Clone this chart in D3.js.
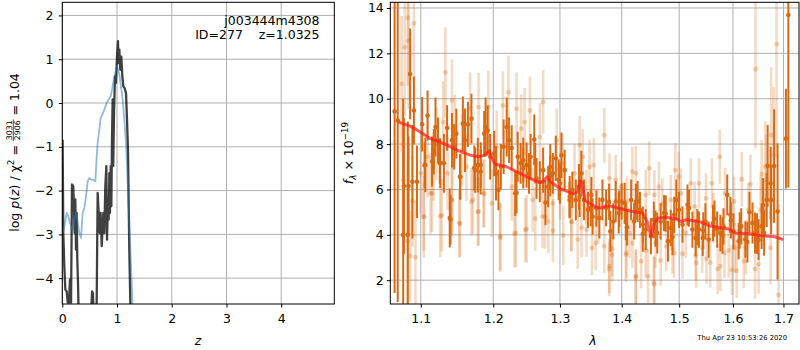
<!DOCTYPE html>
<html><head><meta charset="utf-8">
<script src="https://cdn.jsdelivr.net/npm/d3@7"></script>
<style>
body{margin:0;background:#fff}
svg{display:block}
text{font-family:"DejaVu Sans",sans-serif;fill:#000}
</style>
</head><body>
<svg id="c" width="800" height="350"></svg>
<script>
// ---------------- DATA ----------------
// Left panel: log p(z)
const pzDarkZ   = [0.006,0.018,0.037,0.055,0.08,0.1,0.122,0.14,0.16,0.177,0.2,0.213,0.226,0.238,0.25,0.262,0.274,0.287,0.3,0.52,0.545,0.56,0.575,0.628,0.646,0.665,0.683,0.7,0.72,0.738,0.75,0.768,0.786,0.805,0.817,0.835,0.847,0.86,0.87,0.884,0.896,0.908,0.92,0.93,0.945,0.963,0.98,1.0,1.017,1.03,1.042,1.06,1.078,1.097,1.115,1.139,1.164,1.18,1.2,1.212,1.224,1.243,1.26];
const pzDarkVal = [-0.84,-2.97,-3.73,-4.26,-4.3,-4.56,-4.56,-4.03,-4.56,-1.86,-1.9,-2.36,-2.97,-2.2,-3.35,-2.51,-3.57,-4.11,-4.9,-4.9,-4.3,-4.35,-4.9,-4.56,-2.05,-2.51,-2.97,-2.51,-3.27,-2.81,-2.51,-2.97,-1.9,-1.44,-3.12,-2.2,-2.66,-1.6,-2.51,-1.44,-2.36,-0.84,0.08,-1.44,-0.23,0.61,0.46,1.06,1.41,0.91,1.22,0.76,1.06,0.61,0.38,0.34,0.23,-0.3,-1.06,-2.2,-3.35,-4.56,-5.5];
const pzBlueZ   = [0.006,0.037,0.08,0.11,0.14,0.183,0.213,0.244,0.274,0.311,0.342,0.372,0.403,0.433,0.464,0.494,0.525,0.567,0.604,0.628,0.646,0.677,0.7,0.73,0.768,0.81,0.847,0.884,0.914,0.945,0.975,1.0,1.023,1.048,1.072,1.103,1.133,1.164,1.188,1.212,1.236,1.26,1.28,1.297];
const pzBlueVal = [-2.97,-2.81,-2.51,-2.59,-2.74,-2.89,-2.74,-2.51,-2.66,-2.97,-3.08,-2.51,-2.4,-2.13,-1.79,-1.71,-1.75,-1.75,-1.79,-1.22,-0.91,-0.61,-0.34,-0.27,-0.15,0.0,0.08,0.15,0.34,0.57,0.72,0.84,0.76,0.61,0.38,0.08,-0.38,-0.91,-1.6,-2.36,-3.12,-3.88,-4.49,-5.1];
const zTicks = [0,1,2,3,4];
const pzTicks = [-4,-3,-2,-1,0,1,2];
const objName = "j003444m4308";
const objInfo = "ID=277    z=1.0325";

// Right panel: spectrum (flux in 1e-19)
const darkWave = [1.066,1.070,1.077,1.078,1.083,1.086,1.089,1.091,1.1018,1.105,1.109,1.1174,1.1196,1.123,1.1254,1.131,1.1353,1.1389,1.142,1.145,1.148,1.1535,1.157,1.16,1.164,1.169,1.1743,1.178,1.182,1.187,1.189,1.192,1.1955,1.2013,1.204,1.2075,1.211,1.215,1.2196,1.223,1.2268,1.232,1.2357,1.24,1.244,1.249,1.2526,1.255,1.2605,1.264,1.269,1.274,1.2775,1.2817,1.285,1.289,1.2935,1.298,1.3023,1.3074,1.3153,1.3195,1.325,1.33,1.3338,1.338,1.3445,1.349,1.352,1.363,1.368,1.374,1.381,1.386,1.39,1.395,1.4,1.405,1.409,1.416,1.421,1.427,1.431,1.436,1.441,1.45,1.455,1.461,1.467,1.473,1.48,1.485,1.491,1.495,1.4997,1.506,1.515,1.5177,1.524,1.53,1.536,1.543,1.548,1.554,1.562,1.57,1.576,1.582,1.589,1.595,1.601,1.611,1.616,1.624,1.632,1.638,1.643,1.65,1.656,1.661,1.666,1.675,1.681,1.688,1.705,1.71,
  1.084,1.095,1.106,1.115,1.126,1.14,1.153,1.173,1.182,1.234,1.244,1.262,1.285,1.3,1.315,1.331,1.35,1.358,1.379,1.396,1.407,1.424,1.436,1.458,1.476,1.488,1.517,1.533,1.544,1.565,1.58,1.596,1.613,1.628,1.647,1.659,1.668,1.674];
const darkFlux = [9.44,9.04,4.0,6.15,4.0,11.09,6.34,9.48,8.87,7.07,9.26,7.66,8.75,8.17,7.15,7.15,8.71,4.74,8.17,7.88,8.46,6.56,8.9,8.17,8.87,9.12,6.85,7.07,6.78,8.46,8.75,8.6,7.44,7.58,6.71,5.98,7.0,7.88,8.75,8.17,7.83,5.83,7.44,7.15,7.29,7.07,6.71,7.44,8.2,6.49,6.34,6.85,5.42,6.12,7.0,6.71,7.37,6.42,7.51,6.85,5.69,5.98,5.54,6.12,6.71,5.54,5.1,5.18,4.81,4.74,5.54,5.18,4.15,4.59,5.47,4.96,5.47,5.39,4.33,5.54,4.59,5.47,5.1,4.45,4.23,3.94,4.66,4.08,4.59,4.96,3.72,4.3,4.88,5.54,5.1,4.45,5.32,5.18,4.23,3.86,4.23,3.86,4.59,3.79,4.52,4.23,4.08,4.37,5.76,4.88,4.15,3.72,4.37,3.79,4.99,4.52,4.08,3.79,4.37,4.08,5.54,5.54,7.03,5.03,8.24,13.69,
  6.15,6.34,7.08,7.23,7.16,4.67,6.56,6.94,7.08,5.85,6.94,7.16,6.59,6.27,5.53,5.68,5.75,5.16,5.45,5.16,4.56,5.45,4.05,4.27,4.93,3.9,5.16,4.34,4.19,4.71,3.97,4.64,4.19,3.68,4.05,5.31,7.04,6.27];
const darkErr  = [8,8,6,3,5,2,2.5,1.5,1.2,1.0,1.1,1.0,1.3,1.0,0.9,1.3,1.0,1.3,1.2,1.0,1.1,1.0,1.2,1.4,1.0,1.1,1.0,1.2,1.0,1.0,1.3,1.1,1.0,1.0,1.2,0.9,1.0,1.2,1.3,1.0,1.0,1.0,1.1,0.9,1.0,1.0,0.9,1.0,1.1,0.9,0.9,1.0,1.0,0.9,1.0,0.9,1.0,0.9,1.0,0.9,0.9,0.8,0.9,1.0,1.0,0.9,0.8,0.8,0.8,0.9,0.9,0.8,0.9,0.8,0.9,0.9,0.8,0.9,0.8,0.9,0.8,0.9,0.8,0.8,0.9,0.8,0.8,0.9,0.8,0.8,0.9,0.8,0.8,0.9,0.8,0.8,0.9,0.8,0.8,0.8,0.8,0.8,0.8,0.8,0.8,0.8,0.8,0.8,0.9,0.8,0.8,0.8,0.8,0.8,0.9,0.9,0.9,0.9,1.0,1.0,1.2,1.5,2.5,3,2.2,7.6,
  2.2,1.6,1.2,1.1,1.1,1.1,1.0,1.0,1.0,0.9,0.9,0.9,0.9,0.9,0.8,0.9,0.8,0.8,0.8,0.8,0.8,0.8,0.8,0.8,0.8,0.8,0.8,0.8,0.8,0.8,0.8,0.8,0.8,0.9,0.9,1.2,1.8,1.6];
const lightWave = [1.075,1.079,1.083,1.084,1.091,1.086,1.077,1.083,1.089,1.1,1.104,1.109,1.113,1.117,1.121,1.126,1.13,1.133,1.136,1.142,1.142,1.146,1.152,1.156,1.162,1.167,1.171,1.179,1.179,1.186,1.193,1.198,1.205,1.21,1.214,1.222,1.227,1.233,1.234,1.241,1.246,1.249,1.254,1.258,1.269,1.274,1.273,1.282,1.289,1.295,1.3,1.304,1.318,1.323,1.328,1.3311,1.336,1.342,1.347,1.351,1.354,1.357,1.371,1.371,1.3795,1.3795,1.384,1.39,1.399,1.408,1.409,1.413,1.418,1.418,1.424,1.424,1.433,1.441,1.445,1.447,1.455,1.456,1.458,1.464,1.47,1.477,1.485,1.491,1.493,1.499,1.503,1.512,1.521,1.528,1.531,1.536,1.542,1.549,1.557,1.56,1.563,1.575,1.576,1.584,1.585,1.598,1.602,1.604,1.617,1.621,1.63,1.634,1.644,1.65,1.656,1.658,1.666,1.674,1.675,1.68,1.686,1.69,
  1.093,1.104,1.115,1.128,1.142,1.153,1.169,1.178,1.187,1.21,1.231,1.247,1.262,1.277,1.289,1.305,1.318,1.334,1.342,1.361,1.379,1.384,1.407,1.424,1.441,1.456,1.467,1.488,1.506,1.53,1.55,1.571,1.592,1.607,1.625,1.643,1.654,1.663];
const lightFlux = [10.65,12.26,13.57,12.55,13.32,3.06,6.42,3.72,5.47,6.71,4.81,7.44,5.83,7.0,8.02,4.81,8.97,11.16,6.71,5.54,9.92,8.68,4.52,7.73,7.0,9.56,5.54,9.63,5.03,5.83,9.63,5.39,7.88,3.94,9.7,10.29,6.12,4.08,9.56,8.68,8.97,4.26,9.48,5.54,8.31,9.85,4.81,4.59,5.39,8.17,5.98,7.15,4.59,6.71,3.79,7.95,7.44,4.23,7.0,3.42,7.07,3.64,8.39,3.5,2.62,6.49,3.13,6.42,6.12,3.2,5.47,4.08,6.78,3.64,6.71,2.18,2.84,5.76,2.18,6.93,1.89,5.76,3.64,6.12,5.39,3.5,5.54,3.2,6.85,6.56,5.83,4.08,6.27,5.25,2.77,6.27,3.42,5.61,2.77,6.27,4.74,7.44,2.62,3.2,5.83,2.45,5.47,3.42,6.45,2.84,5.1,6.23,11.3,2.7,6.68,5.1,6.42,3.42,8.39,7.51,12.4,1.35,
  3.01,4.79,5.82,4.86,5.53,4.49,5.45,5.01,5.82,3.87,4.05,4.22,4.71,4.79,4.19,3.97,4.56,4.31,5.68,4.79,2.49,3.38,3.13,2.12,3.31,1.82,2.86,3.38,3.16,3.08,2.94,2.49,3.31,2.42,3.45,2.49,5.08,7.01];
const lightErr  = [3,3,3,3,2.5,2,3,3,2,1.8,1.5,1.8,1.8,1.5,1.6,1.8,1.8,2,1.6,1.5,1.8,1.5,1.5,1.6,1.5,1.6,1.5,1.5,1.5,1.5,1.6,1.5,1.6,1.5,1.5,1.6,1.5,1.5,1.6,1.5,1.5,1.5,1.5,1.4,1.5,1.4,1.4,1.4,1.4,1.4,1.3,1.3,1.3,1.3,1.3,1.3,1.2,1.2,1.2,1.2,1.2,1.2,1.2,1.2,1.2,1.1,1.2,1.1,1.1,1.1,1.1,1.1,1.1,1.1,1.2,1.2,1.2,1.1,1.2,1.2,1.2,1.1,1.1,1.1,1.1,1.1,1.1,1.1,1.2,1.1,1.1,1.1,1.1,1.1,1.1,1.1,1.1,1.1,1.1,1.1,1.1,1.2,1.1,1.1,1.1,1.1,1.1,1.1,1.2,1.2,1.2,1.3,3.5,1.3,1.5,1.4,2,1.6,3,3,5,4,
  2.5,1.8,1.7,1.6,1.6,1.5,1.5,1.5,1.5,1.5,1.5,1.4,1.4,1.4,1.4,1.3,1.3,1.3,1.2,1.2,1.2,1.2,1.2,1.2,1.2,1.2,1.1,1.1,1.1,1.1,1.1,1.1,1.2,1.2,1.2,1.3,1.5,2];
const modelWave = [1.0712,1.0866,1.0996,1.1129,1.131,1.149,1.1673,1.179,1.188,1.1945,1.198,1.2026,1.2196,1.2391,1.254,1.269,1.274,1.280,1.2853,1.2997,1.3205,1.3284,1.3322,1.3354,1.339,1.347,1.3578,1.366,1.374,1.385,1.4016,1.4184,1.4354,1.444,1.45,1.4556,1.463,1.476,1.494,1.503,1.512,1.5359,1.5543,1.5792,1.5918,1.6046,1.6303,1.6564,1.683,1.7];
const modelFlux = [8.97,8.78,8.53,8.24,8.02,7.73,7.51,7.44,7.51,7.7,7.37,7.12,7.0,6.71,6.49,6.3,6.34,6.56,6.34,6.05,5.8,5.91,6.39,6.3,5.54,5.39,5.22,5.18,5.28,5.25,5.13,5.03,4.96,4.55,3.93,4.52,4.74,4.77,4.71,4.59,4.66,4.59,4.4,4.3,4.26,4.08,4.05,3.96,3.91,3.79];
const waveTicks = [1.1,1.2,1.3,1.4,1.5,1.6,1.7];
const fluxTicks = [2,4,6,8,10,12,14];
const stamp = "Thu Apr 23 10:53:26 2020";

// ---------------- DRAW ----------------
const svg = d3.select("#c");
const FS = 12.5;
const orange = "#d96a13";

function frame(x0,x1,y0,y1,id){
  svg.append("clipPath").attr("id",id).append("rect")
    .attr("x",x0).attr("y",y0).attr("width",x1-x0).attr("height",y1-y0);
}
function styleAxis(g){
  g.select(".domain").remove();
  g.selectAll(".tick line").attr("stroke","#000").attr("stroke-width",1);
  g.selectAll(".tick text").attr("font-size",FS).attr("font-family","DejaVu Sans").attr("fill","#000");
}

// ---- Left panel ----
const L = {x0:62.3,x1:334.3,y0:2.3,y1:304};
const xz = d3.scaleLinear().domain([0,4.97]).range([L.x0,L.x1]);
const yp = d3.scaleLinear().domain([-4.59,2.3]).range([L.y1,L.y0]);
frame(L.x0,L.x1,L.y0,L.y1,"clipL");

const gl = svg.append("g");
gl.append("g").selectAll("line").data(zTicks).join("line")
  .attr("x1",d=>xz(d)).attr("x2",d=>xz(d)).attr("y1",L.y0).attr("y2",L.y1)
  .attr("stroke","#b0b0b0").attr("stroke-width",1);
gl.append("g").selectAll("line").data(pzTicks).join("line")
  .attr("x1",L.x0).attr("x2",L.x1).attr("y1",d=>yp(d)).attr("y2",d=>yp(d))
  .attr("stroke","#b0b0b0").attr("stroke-width",1);

const lineL = d3.line().x(d=>xz(d[0])).y(d=>yp(d[1]));
const dk = pzDarkZ.map((z,i)=>[z,pzDarkVal[i]]);
const bl = pzBlueZ.map((z,i)=>[z,pzBlueVal[i]]);
const gclipL = gl.append("g").attr("clip-path","url(#clipL)");
gclipL.append("path").attr("d",lineL(dk)).attr("fill","none").attr("stroke","#000").attr("stroke-opacity",0.75).attr("stroke-width",2.3).attr("stroke-linejoin","round");
gclipL.append("path").attr("d",lineL(bl)).attr("fill","none").attr("stroke","#1f77b4").attr("stroke-opacity",0.5).attr("stroke-width",1.8).attr("stroke-linejoin","round");

gl.append("rect").attr("x",L.x0).attr("y",L.y0).attr("width",L.x1-L.x0).attr("height",L.y1-L.y0)
  .attr("fill","none").attr("stroke","#000").attr("stroke-width",1);

styleAxis(gl.append("g").attr("transform",`translate(0,${L.y1})`)
  .call(d3.axisBottom(xz).tickValues(zTicks).tickFormat(d3.format("d")).tickSize(3.5).tickPadding(7)));
styleAxis(gl.append("g").attr("transform",`translate(${L.x0},0)`)
  .call(d3.axisLeft(yp).tickValues(pzTicks).tickFormat(d3.format("d")).tickSize(3.5).tickPadding(5.3)));

gl.append("text").attr("x",319.5).attr("y",25).attr("text-anchor","end").attr("font-size",FS).text(objName);
gl.append("text").attr("x",319.5).attr("y",39).attr("text-anchor","end").attr("font-size",FS)
  .style("white-space","pre").attr("xml:space","preserve").text(objInfo);

gl.append("text").attr("x",198).attr("y",345).attr("text-anchor","middle").attr("font-size",FS).attr("font-style","italic").text("z");

// left y label (rotated) with fraction
{
  const g = svg.append("g").attr("transform","translate(18.5,152.5) rotate(-90)");
  const sp = 0.318*FS;
  const t1 = g.append("text").attr("font-size",FS);
  t1.append("tspan").text("log\u00a0");
  t1.append("tspan").attr("font-style","italic").text("p");
  t1.append("tspan").text("(");
  t1.append("tspan").attr("font-style","italic").text("z");
  t1.append("tspan").text(")\u00a0/\u00a0\u03c7");
  t1.append("tspan").attr("font-size",FS*0.7).attr("dy",-5).text("2");
  t1.append("tspan").attr("dy",5).text("\u00a0=");
  const num = g.append("text").attr("font-size",FS*0.62).attr("text-anchor","middle").text("3031");
  const den = g.append("text").attr("font-size",FS*0.62).attr("text-anchor","middle").text("2906");
  const t2 = g.append("text").attr("font-size",FS).text("=\u00a01.04");
  const w1 = t1.node().getComputedTextLength();
  const wf = Math.max(num.node().getComputedTextLength(), den.node().getComputedTextLength());
  const w2 = t2.node().getComputedTextLength();
  const total = w1 + sp + wf + 2 + sp + w2;
  let x = -total/2;
  t1.attr("x",x);
  x += w1 + sp;
  num.attr("x",x+1+wf/2).attr("y",-6.5);
  den.attr("x",x+1+wf/2).attr("y",1.5);
  g.append("line").attr("x1",x).attr("x2",x+wf+2).attr("y1",-5.2).attr("y2",-5.2).attr("stroke","#000").attr("stroke-width",0.7);
  x += wf + 2 + sp;
  t2.attr("x",x);
}

// ---- Right panel ----
const R = {x0:390.3,x1:799,y0:2.3,y1:304};
const xw = d3.scaleLog().domain([1.0605,1.732]).range([R.x0,R.x1]);
const yf = d3.scaleLinear().domain([0.95,14.25]).range([R.y1,R.y0]);
frame(R.x0,R.x1,R.y0,R.y1,"clipR");
const gr = svg.append("g");
gr.append("g").selectAll("line").data(waveTicks).join("line")
  .attr("x1",d=>xw(d)).attr("x2",d=>xw(d)).attr("y1",R.y0).attr("y2",R.y1)
  .attr("stroke","#b0b0b0").attr("stroke-width",1);
gr.append("g").selectAll("line").data(fluxTicks).join("line")
  .attr("x1",R.x0).attr("x2",R.x1).attr("y1",d=>yf(d)).attr("y2",d=>yf(d))
  .attr("stroke","#b0b0b0").attr("stroke-width",1);

const gc = gr.append("g").attr("clip-path","url(#clipR)");
const light = lightWave.map((w,i)=>({w,f:lightFlux[i],e:lightErr[i]}));
const dark = darkWave.map((w,i)=>({w,f:darkFlux[i],e:darkErr[i]}));
const gL = gc.append("g");
gL.selectAll("line").data(light).join("line")
  .attr("x1",d=>xw(d.w)).attr("x2",d=>xw(d.w)).attr("y1",d=>yf(d.f-d.e)).attr("y2",d=>yf(d.f+d.e))
  .attr("stroke",orange).attr("stroke-opacity",0.25).attr("stroke-width",2.6);
gL.selectAll("circle").data(light).join("circle")
  .attr("cx",d=>xw(d.w)).attr("cy",d=>yf(d.f)).attr("r",2.4)
  .attr("fill",orange).attr("fill-opacity",0.3);
const gD = gc.append("g");
gD.selectAll("line").data(dark).join("line")
  .attr("x1",d=>xw(d.w)).attr("x2",d=>xw(d.w)).attr("y1",d=>yf(d.f-d.e)).attr("y2",d=>yf(d.f+d.e))
  .attr("stroke",orange).attr("stroke-width",2);
gD.selectAll("circle").data(dark).join("circle")
  .attr("cx",d=>xw(d.w)).attr("cy",d=>yf(d.f)).attr("r",2.3)
  .attr("fill",orange);
const model = modelWave.map((w,i)=>[w,modelFlux[i]]);
gc.append("path").attr("d",d3.line().x(d=>xw(d[0])).y(d=>yf(d[1]))(model))
  .attr("fill","none").attr("stroke","#ff1a1a").attr("stroke-opacity",0.7).attr("stroke-width",3).attr("stroke-linejoin","round");

gr.append("rect").attr("x",R.x0).attr("y",R.y0).attr("width",R.x1-R.x0).attr("height",R.y1-R.y0)
  .attr("fill","none").attr("stroke","#000").attr("stroke-width",1);
styleAxis(gr.append("g").attr("transform",`translate(0,${R.y1})`)
  .call(d3.axisBottom(xw).tickValues(waveTicks).tickFormat(d3.format(".1f")).tickSize(3.5).tickPadding(7)));
styleAxis(gr.append("g").attr("transform",`translate(${R.x0},0)`)
  .call(d3.axisLeft(yf).tickValues(fluxTicks).tickFormat(d3.format("d")).tickSize(3.5).tickPadding(3)));

gr.append("text").attr("x",593).attr("y",345).attr("text-anchor","middle").attr("font-size",FS).attr("font-style","italic").text("\u03bb");

{
  const g = svg.append("g").attr("transform","translate(353,153) rotate(-90)");
  const t = g.append("text").attr("font-size",FS).attr("text-anchor","middle");
  t.append("tspan").attr("font-style","italic").text("f");
  t.append("tspan").attr("font-size",FS*0.7).attr("font-style","italic").attr("dy",3).text("\u03bb");
  t.append("tspan").attr("dy",-3).text("\u00a0\u00d7\u00a010");
  t.append("tspan").attr("font-size",FS*0.7).attr("dy",-5).text("\u221219");
}

svg.append("text").attr("x",787).attr("y",340).attr("text-anchor","end").attr("font-size",6.8).text(stamp);
</script>
</body></html>
